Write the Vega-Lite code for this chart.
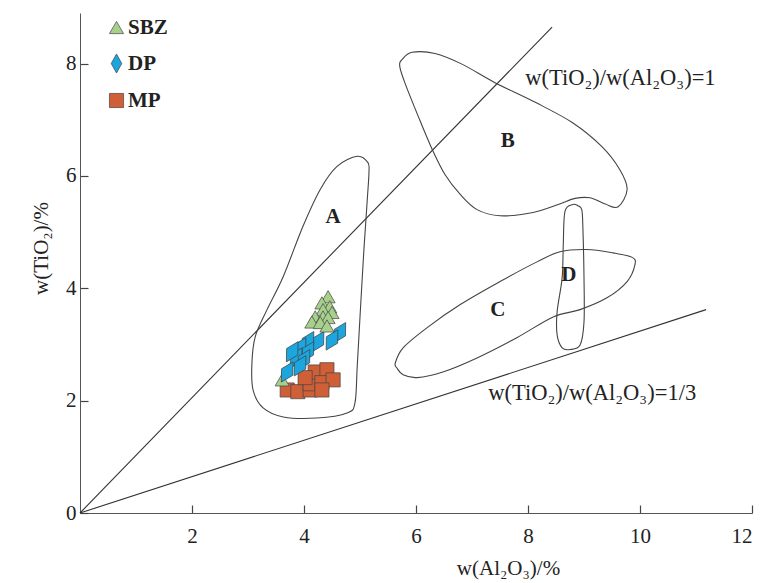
{
  "$schema": "https://vega.github.io/schema/vega-lite/v6.json",
  "width": 672,
  "height": 500,
  "autosize": {"type": "none"},
  "padding": {"left": 80, "top": 13, "right": 8, "bottom": 70},
  "background": "white",
  "config": {
    "view": {"stroke": null},
    "font": "Liberation Serif",
    "axis": {
      "grid": false,
      "ticks": true,
      "domainColor": "#555",
      "tickColor": "#444",
      "tickWidth": 1.2,
      "tickSize": -8,
      "format": "d",
      "labelFont": "Liberation Serif",
      "labelFontSize": 21,
      "labelColor": "#222",
      "titleFont": "Liberation Serif",
      "titleFontSize": 21,
      "titleFontWeight": "normal",
      "titleColor": "#222"
    },
    "legend": {
      "orient": "none",
      "legendX": 26,
      "legendY": 4,
      "padding": 0,
      "title": null,
      "labelFont": "Liberation Serif",
      "labelFontSize": 21,
      "labelFontWeight": "bold",
      "labelColor": "#222",
      "labelOffset": 1,
      "rowPadding": 14,
      "symbolStrokeColor": "#444",
      "symbolStrokeWidth": 0.7,
      "symbolSize": 200
    }
  },
  "datasets": {
    "refs": [
      {"line": "r1", "x": 0, "y": 0},
      {"line": "r1", "x": 8.43, "y": 8.65},
      {"line": "r2", "x": 0, "y": 0},
      {"line": "r2", "x": 11.18, "y": 3.62}
    ],
    "regions": [
      {"region": "A", "i": 1, "x": 5.14, "y": 6.24},
      {"region": "A", "i": 2, "x": 4.95, "y": 6.35},
      {"region": "A", "i": 3, "x": 4.59, "y": 6.17},
      {"region": "A", "i": 4, "x": 4.29, "y": 5.76},
      {"region": "A", "i": 5, "x": 3.98, "y": 5.10},
      {"region": "A", "i": 6, "x": 3.63, "y": 4.21},
      {"region": "A", "i": 7, "x": 3.34, "y": 3.62},
      {"region": "A", "i": 8, "x": 3.13, "y": 3.14},
      {"region": "A", "i": 9, "x": 3.07, "y": 2.67},
      {"region": "A", "i": 10, "x": 3.09, "y": 2.19},
      {"region": "A", "i": 11, "x": 3.27, "y": 1.87},
      {"region": "A", "i": 12, "x": 3.63, "y": 1.71},
      {"region": "A", "i": 13, "x": 4.23, "y": 1.69},
      {"region": "A", "i": 14, "x": 4.77, "y": 1.78},
      {"region": "A", "i": 15, "x": 4.91, "y": 1.96},
      {"region": "A", "i": 16, "x": 4.95, "y": 2.60},
      {"region": "A", "i": 17, "x": 5.00, "y": 3.49},
      {"region": "A", "i": 18, "x": 5.07, "y": 4.69},
      {"region": "A", "i": 19, "x": 5.13, "y": 5.58},
      {"region": "A", "i": 20, "x": 5.16, "y": 6.06},
      {"region": "B", "i": 1, "x": 5.75, "y": 8.07},
      {"region": "B", "i": 2, "x": 5.93, "y": 8.20},
      {"region": "B", "i": 3, "x": 6.34, "y": 8.18},
      {"region": "B", "i": 4, "x": 6.82, "y": 7.99},
      {"region": "B", "i": 5, "x": 7.41, "y": 7.66},
      {"region": "B", "i": 6, "x": 8.13, "y": 7.31},
      {"region": "B", "i": 7, "x": 8.79, "y": 6.95},
      {"region": "B", "i": 8, "x": 9.32, "y": 6.52},
      {"region": "B", "i": 9, "x": 9.64, "y": 6.11},
      {"region": "B", "i": 10, "x": 9.77, "y": 5.76},
      {"region": "B", "i": 11, "x": 9.61, "y": 5.45},
      {"region": "B", "i": 12, "x": 9.38, "y": 5.50},
      {"region": "B", "i": 13, "x": 9.11, "y": 5.61},
      {"region": "B", "i": 14, "x": 8.84, "y": 5.60},
      {"region": "B", "i": 15, "x": 8.54, "y": 5.49},
      {"region": "B", "i": 16, "x": 8.09, "y": 5.35},
      {"region": "B", "i": 17, "x": 7.50, "y": 5.29},
      {"region": "B", "i": 18, "x": 7.09, "y": 5.40},
      {"region": "B", "i": 19, "x": 6.79, "y": 5.67},
      {"region": "B", "i": 20, "x": 6.52, "y": 6.02},
      {"region": "B", "i": 21, "x": 6.29, "y": 6.47},
      {"region": "B", "i": 22, "x": 6.04, "y": 7.06},
      {"region": "B", "i": 23, "x": 5.80, "y": 7.66},
      {"region": "B", "i": 24, "x": 5.71, "y": 7.95},
      {"region": "C", "i": 1, "x": 5.66, "y": 2.58},
      {"region": "C", "i": 2, "x": 5.77, "y": 2.46},
      {"region": "C", "i": 3, "x": 6.02, "y": 2.41},
      {"region": "C", "i": 4, "x": 6.48, "y": 2.51},
      {"region": "C", "i": 5, "x": 7.09, "y": 2.76},
      {"region": "C", "i": 6, "x": 7.80, "y": 3.12},
      {"region": "C", "i": 7, "x": 8.45, "y": 3.49},
      {"region": "C", "i": 8, "x": 8.93, "y": 3.62},
      {"region": "C", "i": 9, "x": 9.41, "y": 3.83},
      {"region": "C", "i": 10, "x": 9.77, "y": 4.12},
      {"region": "C", "i": 11, "x": 9.91, "y": 4.42},
      {"region": "C", "i": 12, "x": 9.86, "y": 4.55},
      {"region": "C", "i": 13, "x": 9.52, "y": 4.63},
      {"region": "C", "i": 14, "x": 9.05, "y": 4.69},
      {"region": "C", "i": 15, "x": 8.57, "y": 4.65},
      {"region": "C", "i": 16, "x": 8.16, "y": 4.47},
      {"region": "C", "i": 17, "x": 7.50, "y": 4.12},
      {"region": "C", "i": 18, "x": 6.79, "y": 3.71},
      {"region": "C", "i": 19, "x": 6.20, "y": 3.30},
      {"region": "C", "i": 20, "x": 5.77, "y": 2.94},
      {"region": "C", "i": 21, "x": 5.63, "y": 2.67},
      {"region": "D", "i": 1, "x": 8.80, "y": 5.49},
      {"region": "D", "i": 2, "x": 8.66, "y": 5.37},
      {"region": "D", "i": 3, "x": 8.63, "y": 4.78},
      {"region": "D", "i": 4, "x": 8.61, "y": 4.19},
      {"region": "D", "i": 5, "x": 8.52, "y": 3.58},
      {"region": "D", "i": 6, "x": 8.52, "y": 3.17},
      {"region": "D", "i": 7, "x": 8.61, "y": 2.94},
      {"region": "D", "i": 8, "x": 8.75, "y": 2.91},
      {"region": "D", "i": 9, "x": 8.93, "y": 2.99},
      {"region": "D", "i": 10, "x": 9.00, "y": 3.40},
      {"region": "D", "i": 11, "x": 9.00, "y": 4.19},
      {"region": "D", "i": 12, "x": 8.98, "y": 5.08},
      {"region": "D", "i": 13, "x": 8.96, "y": 5.40},
      {"region": "D", "i": 14, "x": 8.89, "y": 5.47}
    ],
    "samples": [
      {"series": "MP", "x": 3.70, "y": 2.19},
      {"series": "MP", "x": 3.89, "y": 2.16},
      {"series": "MP", "x": 4.11, "y": 2.19},
      {"series": "MP", "x": 4.11, "y": 2.30},
      {"series": "MP", "x": 4.20, "y": 2.51},
      {"series": "MP", "x": 4.41, "y": 2.55},
      {"series": "MP", "x": 4.32, "y": 2.32},
      {"series": "MP", "x": 4.52, "y": 2.37},
      {"series": "MP", "x": 4.32, "y": 2.19},
      {"series": "MP", "x": 4.02, "y": 2.41},
      {"series": "SBZ", "x": 3.61, "y": 2.37},
      {"series": "DP", "x": 4.64, "y": 3.21},
      {"series": "DP", "x": 4.50, "y": 3.08},
      {"series": "DP", "x": 4.25, "y": 3.05},
      {"series": "DP", "x": 4.07, "y": 3.05},
      {"series": "DP", "x": 3.93, "y": 2.94},
      {"series": "DP", "x": 4.07, "y": 2.87},
      {"series": "DP", "x": 3.86, "y": 2.76},
      {"series": "DP", "x": 4.00, "y": 2.73},
      {"series": "DP", "x": 3.93, "y": 2.62},
      {"series": "DP", "x": 3.70, "y": 2.51},
      {"series": "DP", "x": 3.79, "y": 2.87},
      {"series": "SBZ", "x": 4.43, "y": 3.85},
      {"series": "SBZ", "x": 4.32, "y": 3.74},
      {"series": "SBZ", "x": 4.46, "y": 3.67},
      {"series": "SBZ", "x": 4.34, "y": 3.62},
      {"series": "SBZ", "x": 4.50, "y": 3.57},
      {"series": "SBZ", "x": 4.20, "y": 3.49},
      {"series": "SBZ", "x": 4.34, "y": 3.49},
      {"series": "SBZ", "x": 4.43, "y": 3.48},
      {"series": "SBZ", "x": 4.14, "y": 3.40},
      {"series": "SBZ", "x": 4.29, "y": 3.39},
      {"series": "SBZ", "x": 4.41, "y": 3.33}
    ],
    "regionLabels": [
      {"label": "A", "x": 4.52, "y": 5.26},
      {"label": "B", "x": 7.64, "y": 6.63},
      {"label": "C", "x": 7.46, "y": 3.62},
      {"label": "D", "x": 8.73, "y": 4.24}
    ],
    "ratioLabels": [
      {"label": "w(TiO₂)/w(Al₂O₃)=1", "x": 7.95, "y": 7.75},
      {"label": "w(TiO₂)/w(Al₂O₃)=1/3", "x": 7.29, "y": 2.14}
    ]
  },
  "layer": [
    {
      "data": {"name": "refs"},
      "mark": {"type": "line", "stroke": "#333", "strokeWidth": 1.1},
      "encoding": {
        "x": {
          "field": "x", "type": "quantitative",
          "scale": {"domain": [0, 12], "nice": false, "zero": false},
          "axis": {"values": [2, 4, 6, 8, 10, 12], "title": "w(Al₂O₃)/%", "labelPadding": 20, "titleX": 428, "titleY": 44, "titleAnchor": "middle", "tickSize": -8, "ticks": true}
        },
        "y": {
          "field": "y", "type": "quantitative",
          "scale": {"domain": [0, 8.9], "nice": false, "zero": false},
          "axis": {"values": [0, 2, 4, 6, 8], "title": "w(TiO₂)/%", "labelPadding": 12, "titlePadding": 14, "titleY": 235, "tickSize": -8, "ticks": true}
        },
        "detail": {"field": "line"}
      }
    },
    {
      "data": {"name": "regions"},
      "mark": {"type": "line", "interpolate": "cardinal-closed", "stroke": "#444", "strokeWidth": 1.1},
      "encoding": {
        "x": {"field": "x", "type": "quantitative"},
        "y": {"field": "y", "type": "quantitative"},
        "detail": {"field": "region"},
        "order": {"field": "i"}
      }
    },
    {
      "data": {"name": "samples"},
      "mark": {"type": "point", "filled": true, "opacity": 1, "stroke": "#444", "strokeWidth": 0.7},
      "encoding": {
        "x": {"field": "x", "type": "quantitative"},
        "y": {"field": "y", "type": "quantitative"},
        "shape": {
          "field": "series", "type": "nominal",
          "scale": {"domain": ["SBZ", "DP", "MP"], "range": ["triangle-up", "M0,-1.35L0.75,0L0,1.35L-0.75,0Z", "square"]}
        },
        "color": {
          "field": "series", "type": "nominal",
          "scale": {"domain": ["SBZ", "DP", "MP"], "range": ["#a8d08d", "#1ba6df", "#cf5f37"]}
        },
        "angle": {"condition": {"test": "datum.series === 'DP'", "value": 30}, "value": 0},
        "size": {"condition": {"test": "datum.series === 'DP'", "value": 300}, "value": 200}
      }
    },
    {
      "data": {"name": "regionLabels"},
      "mark": {"type": "text", "font": "Liberation Serif", "fontSize": 21, "fontWeight": "bold", "color": "#222"},
      "encoding": {
        "x": {"field": "x", "type": "quantitative"},
        "y": {"field": "y", "type": "quantitative"},
        "text": {"field": "label"}
      }
    },
    {
      "data": {"name": "ratioLabels"},
      "mark": {"type": "text", "font": "Liberation Serif", "fontSize": 22.5, "align": "left", "baseline": "middle", "color": "#222"},
      "encoding": {
        "x": {"field": "x", "type": "quantitative"},
        "y": {"field": "y", "type": "quantitative"},
        "text": {"field": "label"}
      }
    }
  ]
}
